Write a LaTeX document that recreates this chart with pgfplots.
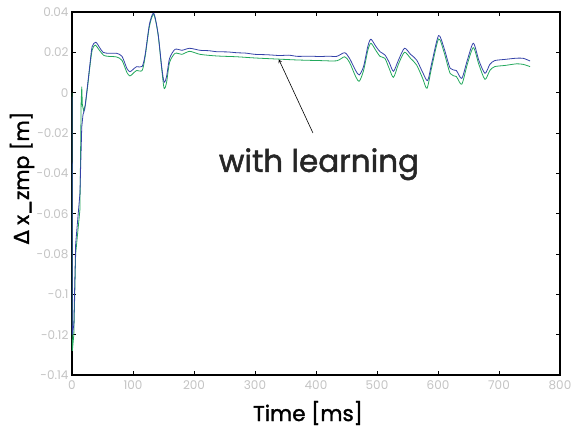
\documentclass[border=0pt]{standalone}
\usepackage{fontspec}
\setmainfont{Poppins}
\newfontfamily\heavy[FakeBold=1.6]{Poppins}
\newfontfamily\dejavu[FakeBold=1.6]{DejaVu Sans}
\usepackage{pgfplots}
\pgfplotsset{compat=1.18}
\definecolor{cblue}{RGB}{52,66,168}
\definecolor{cgreen}{RGB}{34,168,92}
\definecolor{ticklab}{RGB}{195,195,195}
\begin{document}
\begin{tikzpicture}
\begin{axis}[
  scale only axis, width=488pt, height=363pt,
  xmin=0, xmax=800, ymin=-0.14, ymax=0.04,
  xtick={0,100,...,800},
  ytick={-0.14,-0.12,-0.1,-0.08,-0.06,-0.04,-0.02,0,0.02,0.04},
  yticklabels={-0.14,-0.12,-0.1,-0.08,-0.06,-0.04,-0.02,0,0.02,0.04},
  scaled y ticks=false,
  tick align=inside, major tick length=4pt,
  tick style={black, line width=0.8pt},
  axis line style={black, line width=1.1pt},
  /pgf/number format/assume math mode=true,
  ticklabel style={font=\fontsize{12}{14}\selectfont, text=ticklab},
  xticklabel style={yshift=-2pt},
  clip=true,
]
% green: transient
\addplot[cgreen, line width=0.8pt] coordinates {
(0,0.0) (0.6,-0.128) (3,-0.12) (6,-0.08) (13,-0.058) (15,-0.005) (16,0.003) (17,-0.006) (19,-0.009) (22,-0.006)
};
\addplot[cgreen, line width=0.8pt, smooth, tension=0.45] coordinates {
(22,-0.006) (26,0.004) (29,0.012) (33,0.021) (38,0.0236) (45,0.021) (52,0.0185) (60,0.018) (73,0.0177) (82,0.016) (90,0.010) (95,0.0083) (100,0.0095) (106,0.011) (115,0.011) (120,0.018) (127,0.033) (134,0.0388) (141,0.029) (147,0.012) (151,0.0022) (155,0.005) (160,0.015) (169,0.0195) (180,0.019) (193,0.0205) (210,0.019) (237,0.0182) (270,0.0178) (300,0.0172) (341,0.0166) (370,0.0162) (407,0.0159) (434,0.0158) (447,0.0178) (455,0.015) (465,0.008) (471,0.0057) (478,0.011) (485,0.021) (490,0.0245) (498,0.021) (505,0.018) (513,0.017) (520,0.012) (527,0.0076) (535,0.014) (545,0.020) (555,0.017) (565,0.0137) (575,0.007) (582,0.0022) (590,0.013) (601,0.0266) (610,0.02) (620,0.0095) (630,0.008) (639,0.0042) (648,0.014) (658,0.0223) (667,0.014) (677,0.0066) (685,0.011) (693,0.0129) (710,0.0135) (729,0.0143) (740,0.014) (751,0.0129)
};
% blue: transient
\addplot[cblue, line width=0.8pt] coordinates {
(0,-0.002) (0.6,-0.12) (3,-0.115) (6,-0.075) (13,-0.05) (16,-0.017) (18,-0.011) (21,-0.008)
};
\addplot[cblue, line width=0.8pt, smooth, tension=0.45] coordinates {
(21,-0.008) (26,0.005) (29,0.013) (33,0.0228) (39,0.025) (45,0.0225) (51,0.020) (60,0.0195) (73,0.0195) (82,0.018) (90,0.012) (95,0.0104) (100,0.0115) (106,0.0129) (115,0.013) (120,0.019) (127,0.034) (134,0.0394) (141,0.0295) (147,0.013) (151,0.0052) (155,0.008) (160,0.017) (169,0.0215) (180,0.021) (193,0.022) (210,0.021) (225,0.0208) (237,0.0203) (255,0.0202) (270,0.0198) (285,0.0196) (300,0.019) (320,0.0188) (341,0.0184) (355,0.0186) (370,0.018) (390,0.0181) (407,0.0179) (420,0.0181) (434,0.018) (447,0.0198) (455,0.017) (465,0.011) (471,0.0088) (478,0.013) (485,0.023) (490,0.0265) (498,0.023) (505,0.0203) (513,0.0187) (520,0.015) (527,0.0106) (535,0.016) (545,0.022) (555,0.019) (565,0.0162) (575,0.010) (583,0.006) (590,0.015) (601,0.0283) (610,0.022) (620,0.0121) (630,0.011) (639,0.0071) (648,0.016) (658,0.0245) (667,0.016) (677,0.0096) (685,0.014) (693,0.0159) (710,0.0165) (729,0.0171) (740,0.017) (751,0.0157)
};
\draw[-stealth, black, line width=0.6pt] (axis cs:395,-0.020) -- (axis cs:339,0.0165);
\node[font=\heavy\fontsize{31}{36}\selectfont, text=black!85] at (axis cs:405,-0.0355) {with learning};
\end{axis}
\node[rotate=90, font=\heavy\fontsize{20.5}{24}\selectfont, anchor=center] at (-50pt,197pt) {{\dejavu Δ} x\_zmp [m]};
\node[font=\heavy\fontsize{21.5}{24}\selectfont, anchor=center] at (236pt,-38pt) {Time [ms]};
\pgfresetboundingbox
\path (-72pt,-55pt) rectangle (499pt,375pt);
\end{tikzpicture}
\end{document}
